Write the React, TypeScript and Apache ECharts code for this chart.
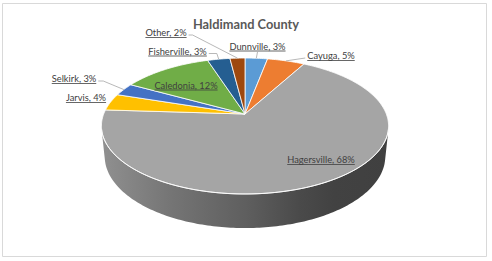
import React, { useEffect, useRef } from 'react';
import * as echarts from 'echarts';

const TITLE = 'Haldimand County';
const categories = ['Dunnville', 'Cayuga', 'Hagersville', 'Jarvis', 'Selkirk', 'Caledonia', 'Fisherville', 'Other'];
const shares = [3, 5, 68, 4, 3, 12, 3, 2];

const PALETTE = ['#5B9BD5', '#ED7D31', '#A5A5A5', '#FFC000', '#4472C4', '#70AD47', '#255E91', '#9E480E'];
const FONT_FAMILY = 'Lato, "Noto Sans", sans-serif';
const LABEL_SIZE = 9.3;

// label placement (center x, baseline y) and leader line style
type LabelPos = { x: number; y: number; leader: 'none' | 'down' | 'straight' | 'elbow'; elbow?: number };
const LABEL_POS: Record<string, LabelPos> = {
  Dunnville: { x: 257.5, y: 48.5, leader: 'down' },
  Cayuga: { x: 331, y: 58, leader: 'straight' },
  Hagersville: { x: 321, y: 162, leader: 'none' },
  Jarvis: { x: 86, y: 100, leader: 'none' },
  Selkirk: { x: 74, y: 81, leader: 'elbow', elbow: 5 },
  Caledonia: { x: 186, y: 87.5, leader: 'none' },
  Fisherville: { x: 177.5, y: 53.5, leader: 'elbow', elbow: 8 },
  Other: { x: 166, y: 35, leader: 'elbow', elbow: 4 },
};

// side shading: [position across pie width, brightness factor]
const SIDE_SHADE: [number, number][] = [
  [0, 0.87],
  [0.24, 0.71],
  [0.5, 0.575],
  [0.69, 0.45],
  [0.81, 0.4],
  [1, 0.39],
];

// 3D view (perspective) of the pie
const VIEW = { cx: 245, cy: 114, f: 708, dist: 5.01, sin: 0.466, cos: 0.885, thick: 0.245 };

function project(theta: number, r: number, y: number): [number, number] {
  const X = r * Math.sin(theta);
  const Z = r * Math.cos(theta);
  const depth = VIEW.dist + VIEW.cos * Z - VIEW.sin * y;
  return [VIEW.cx + (VIEW.f * X) / depth, VIEW.cy - (VIEW.f * (VIEW.cos * y + VIEW.sin * Z)) / depth];
}

function shade(hex: string, k: number): string {
  const h = hex.replace('#', '');
  const r = Math.round(parseInt(h.slice(0, 2), 16) * k);
  const g = Math.round(parseInt(h.slice(2, 4), 16) * k);
  const b = Math.round(parseInt(h.slice(4, 6), 16) * k);
  return `rgb(${r},${g},${b})`;
}

let measureCtx: CanvasRenderingContext2D | null = null;
function textWidth(text: string, font: string): number {
  if (!measureCtx) measureCtx = document.createElement('canvas').getContext('2d');
  if (!measureCtx) return text.length * 5;
  measureCtx.font = font;
  return measureCtx.measureText(text).width;
}

export default function App() {
  const ref = useRef<HTMLDivElement>(null);
  useEffect(() => {
    if (!ref.current) return;
    const chart = echarts.init(ref.current, null, { renderer: 'svg' });
    const total = shares.reduce((a, b) => a + b, 0);
    const TWO_PI = Math.PI * 2;
    const f0 = Math.acos(-1 / (VIEW.dist * VIEW.cos));
    const f1 = TWO_PI - f0;
    let minX = Infinity, maxX = -Infinity;
    for (let t = 0; t < 360; t++) {
      const p = project((t * Math.PI) / 180, 1, 0);
      minX = Math.min(minX, p[0]);
      maxX = Math.max(maxX, p[0]);
    }
    const labelFont = `${LABEL_SIZE}px ${FONT_FAMILY}`;

    chart.setOption({
      animation: false,
      title: {
        text: TITLE,
        left: 'center',
        top: 12,
        textStyle: { fontFamily: FONT_FAMILY, fontSize: 12.8, fontWeight: 'bold', color: '#595959' },
      },
      graphic: [
        {
          type: 'rect',
          shape: { x: 2.5, y: 3.5, width: 484, height: 253 },
          style: { fill: 'none', stroke: '#d9d9d9', lineWidth: 1 },
          silent: true,
        },
      ],
      series: [
        {
          type: 'custom',
          coordinateSystem: 'none',
          data: categories.map((name, i) => ({ name, value: shares[i] })),
          renderItem: (params: any, api: any) => {
            const i = params.dataIndex;
            let before = 0;
            for (let k = 0; k < i; k++) before += shares[k];
            const v = api.value(0) as number;
            const a0 = (before / total) * TWO_PI;
            const a1 = ((before + v) / total) * TWO_PI;
            const color = PALETTE[i % PALETTE.length];
            const children: any[] = [];

            // top face
            const n = Math.max(2, Math.ceil(((a1 - a0) * 180) / Math.PI));
            const pts: [number, number][] = [project(0, 0, 0)];
            for (let j = 0; j <= n; j++) pts.push(project(a0 + ((a1 - a0) * j) / n, 1, 0));
            children.push({
              type: 'polygon',
              shape: { points: pts },
              style: { fill: color, stroke: '#ffffff', lineWidth: 0.8, lineJoin: 'round' },
              z2: 10,
            });

            // side (front-facing part)
            const lo = Math.max(a0, f0);
            const hi = Math.min(a1, f1);
            if (hi > lo) {
              const m = Math.max(2, Math.ceil(((hi - lo) * 180) / Math.PI));
              const top: [number, number][] = [];
              const bot: [number, number][] = [];
              for (let j = 0; j <= m; j++) {
                const t = lo + ((hi - lo) * j) / m;
                top.push(project(t, 1, 0));
                bot.push(project(t, 1, -VIEW.thick));
              }
              const grad = new echarts.graphic.LinearGradient(
                minX, 0, maxX, 0,
                SIDE_SHADE.map(([o, k]) => ({ offset: o, color: shade(color, k) })),
                true
              );
              children.push({
                type: 'polygon',
                shape: { points: top.concat(bot.slice().reverse()) },
                style: { fill: grad },
                z2: 1,
              });
              children.push({
                type: 'polyline',
                shape: { points: top },
                style: { stroke: 'rgba(255,255,255,0.85)', lineWidth: 1, fill: null },
                z2: 20,
              });
            }

            // label
            const name = categories[i];
            const lp = LABEL_POS[name];
            if (lp) {
              const text = `${name}, ${Math.round((v / total) * 100)}%`;
              const w = textWidth(text, labelFont);
              const ul = lp.y + 2;
              children.push({
                type: 'text',
                style: {
                  text,
                  x: lp.x,
                  y: lp.y + 2,
                  align: 'center',
                  verticalAlign: 'bottom',
                  font: labelFont,
                  fill: '#404040',
                },
                z2: 30,
              });
              children.push({
                type: 'line',
                shape: { x1: lp.x - w / 2, y1: ul + 0.5, x2: lp.x + w / 2, y2: ul + 0.5 },
                style: { stroke: '#404040', lineWidth: 0.8 },
                z2: 30,
              });
              const mid = (a0 + a1) / 2;
              const anchor = project(mid, 1, 0);
              const leaderStyle = { stroke: '#a6a6a6', lineWidth: 0.8, fill: null };
              if (lp.leader === 'down') {
                children.push({
                  type: 'polyline',
                  shape: { points: [[lp.x, ul + 1.5], [anchor[0], anchor[1]]] },
                  style: leaderStyle,
                  z2: 25,
                });
              } else if (lp.leader === 'straight' || lp.leader === 'elbow') {
                const right = anchor[0] > lp.x;
                const sx = right ? lp.x + w / 2 + 2 : lp.x - w / 2 - 2;
                const sy = lp.y;
                const pts2: [number, number][] = [[sx, sy]];
                if (lp.leader === 'elbow') pts2.push([sx + (right ? 1 : -1) * (lp.elbow || 5), sy]);
                pts2.push([anchor[0], anchor[1]]);
                children.push({ type: 'polyline', shape: { points: pts2 }, style: leaderStyle, z2: 25 });
              }
            }
            return { type: 'group', children };
          },
        },
      ],
    });
    return () => chart.dispose();
  }, []);
  return (
    <div
      ref={ref}
      style={{ position: 'absolute', left: 0, top: 0, width: 492, height: 261, background: '#ffffff' }}
    />
  );
}
